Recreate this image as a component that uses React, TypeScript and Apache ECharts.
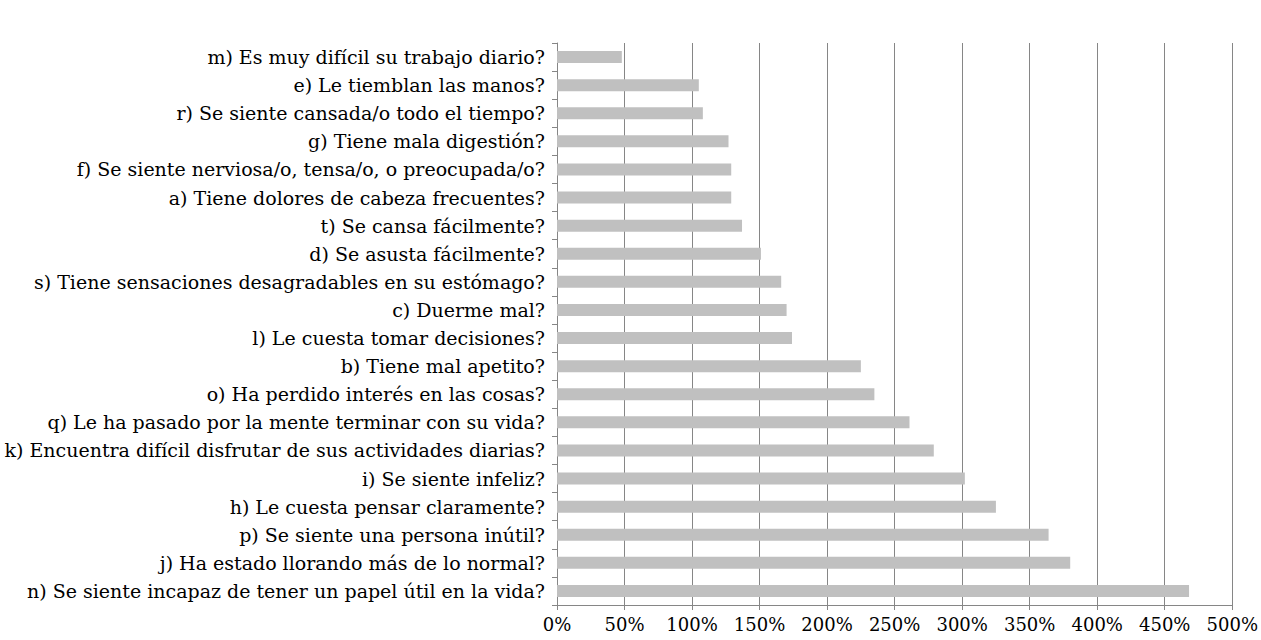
import React, { useEffect, useRef } from "react";
import * as echarts from "echarts";

const categories = [
  "m) Es muy difícil su trabajo diario?",
  "e) Le tiemblan las manos?",
  "r) Se siente cansada/o todo el tiempo?",
  "g) Tiene mala digestión?",
  "f) Se siente nerviosa/o, tensa/o, o preocupada/o?",
  "a) Tiene dolores de cabeza frecuentes?",
  "t) Se cansa fácilmente?",
  "d) Se asusta fácilmente?",
  "s) Tiene sensaciones desagradables en su estómago?",
  "c) Duerme mal?",
  "l) Le cuesta tomar decisiones?",
  "b) Tiene mal apetito?",
  "o) Ha perdido interés en las cosas?",
  "q) Le ha pasado por la mente terminar con su vida?",
  "k) Encuentra difícil disfrutar de sus actividades diarias?",
  "i) Se siente infeliz?",
  "h) Le cuesta pensar claramente?",
  "p) Se siente una persona inútil?",
  "j) Ha estado llorando más de lo normal?",
  "n) Se siente incapaz de tener un papel útil en la vida?",
];

const values = [48, 105, 108, 127, 129, 129, 137, 151, 166, 170, 174, 225, 235, 261, 279, 302, 325, 364, 380, 468];

const xTicks = { min: 0, max: 500, interval: 50 };

export default function App() {
  const ref = useRef<HTMLDivElement>(null);
  useEffect(() => {
    if (!ref.current) return;
    const chart = echarts.init(ref.current, null, { renderer: "svg" });
    const font = "'DejaVu Serif', serif";
    chart.setOption({
      animation: false,
      backgroundColor: "#ffffff",
      grid: { left: 557, right: 27, top: 43, bottom: 35, containLabel: false },
      xAxis: {
        type: "value",
        min: xTicks.min,
        max: xTicks.max,
        interval: xTicks.interval,
        axisLine: { show: true, lineStyle: { color: "#868686", width: 1 } },
        axisTick: { show: true, length: 5, lineStyle: { color: "#868686" } },
        splitLine: { show: true, lineStyle: { color: "#868686", width: 1 } },
        axisLabel: {
          formatter: (v: number) => `${v}%`,
          color: "#000",
          fontFamily: font,
          fontSize: 18,
          margin: 10,
        },
      },
      yAxis: {
        type: "category",
        data: categories,
        inverse: true,
        axisLine: { show: true, lineStyle: { color: "#868686", width: 1 } },
        axisTick: { show: true, length: 5, lineStyle: { color: "#868686" } },
        splitLine: { show: false },
        axisLabel: {
          color: "#000",
          fontFamily: font,
          fontSize: 19,
          margin: 12,
        },
      },
      series: [
        {
          type: "bar",
          data: values,
          barWidth: 12,
          itemStyle: { color: "#c0c0c0" },
        },
      ],
    });
    return () => chart.dispose();
  }, []);
  return (
    <div
      ref={ref}
      style={{ position: "absolute", left: 0, top: 0, width: 1261, height: 640 }}
    />
  );
}
